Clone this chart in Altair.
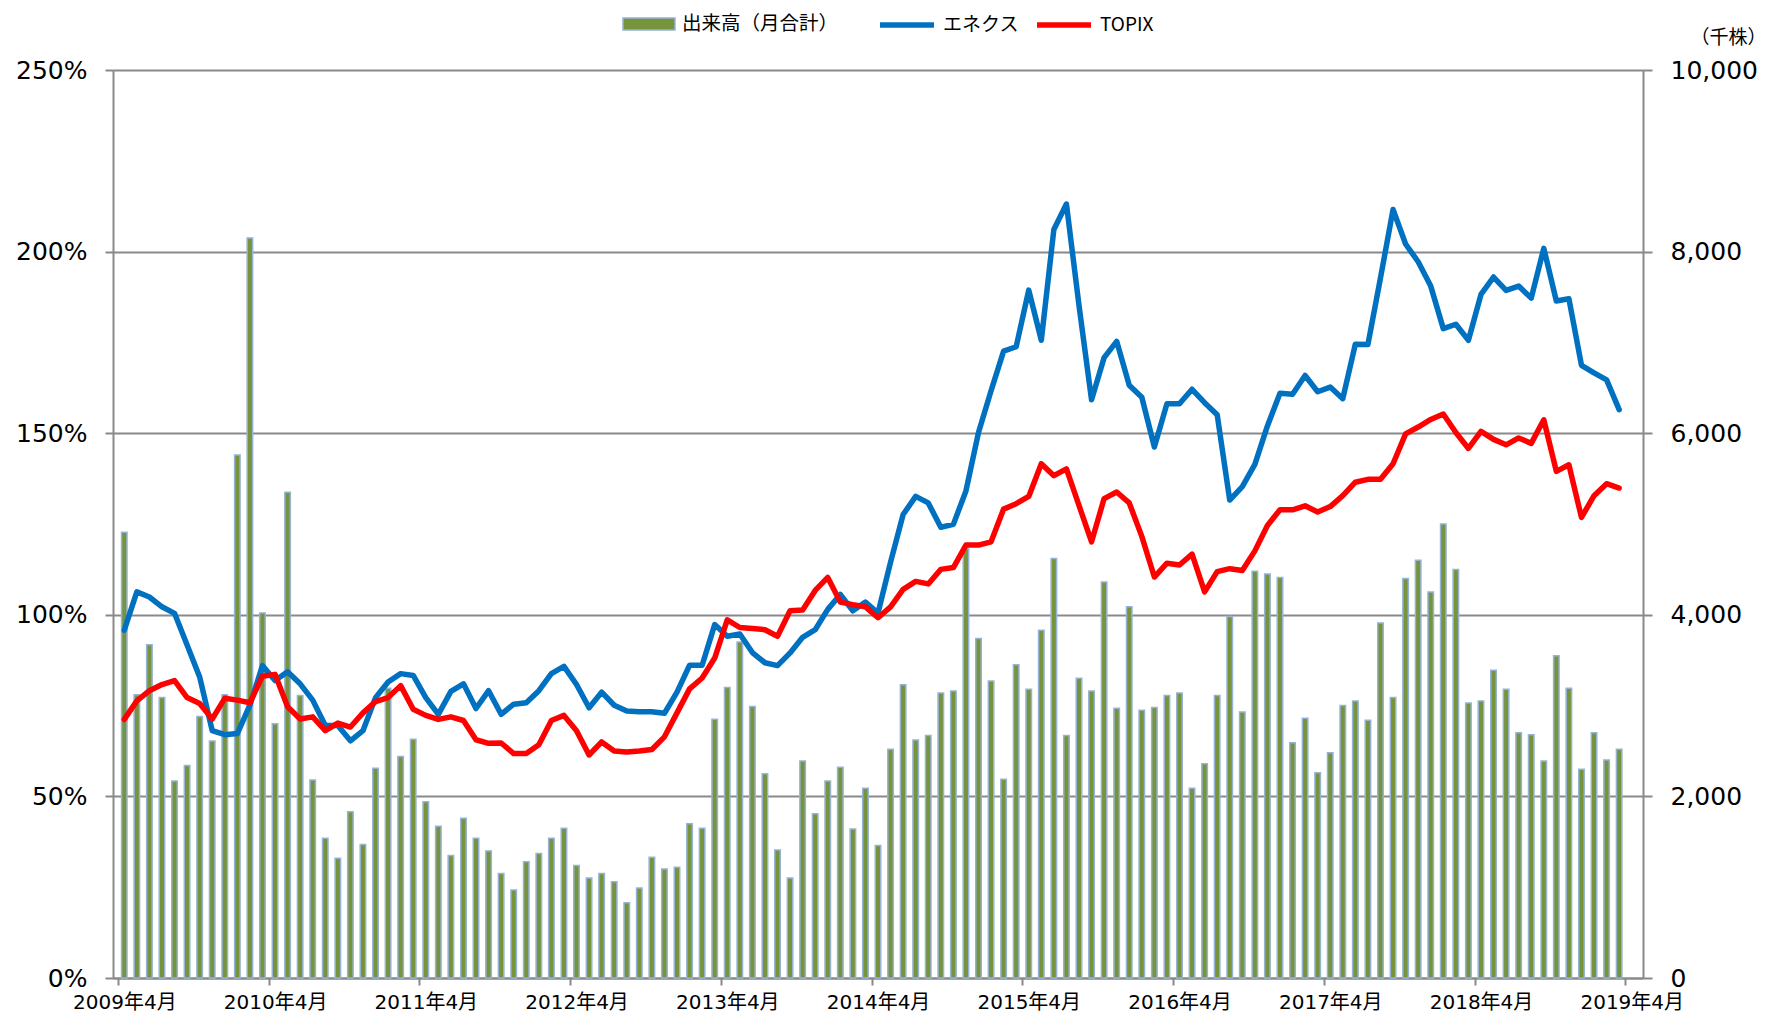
import json
import altair as alt
import pandas as pd

# ---- data ----
x_tick_labels = ["2009年4月", "2010年4月", "2011年4月", "2012年4月", "2013年4月", "2014年4月",
                 "2015年4月", "2016年4月", "2017年4月", "2018年4月", "2019年4月"]

# monthly volume, thousand shares (2009/4 .. 2019/3)
volume = [4910, 3120, 3670, 3090, 2170, 2340, 2880, 2610, 3120, 5760, 8150, 4020,
          2800, 5350, 3110, 2180, 1540, 1320, 1830, 1470, 2310, 3190, 2440, 2630,
          1940, 1670, 1350, 1760, 1540, 1400, 1150, 970, 1280, 1370, 1540, 1650,
          1240, 1100, 1150, 1060, 830, 990, 1330, 1200, 1220, 1700, 1650, 2850,
          3200, 3700, 2990, 2250, 1410, 1100, 2390, 1810, 2170, 2320, 1640, 2090,
          1460, 2520, 3230, 2620, 2670, 3140, 3160, 4730, 3740, 3270, 2190, 3450,
          3180, 3830, 4620, 2670, 3300, 3160, 4360, 2970, 4090, 2950, 2980, 3110,
          3140, 2090, 2360, 3110, 3980, 2930, 4480, 4450, 4410, 2590, 2860, 2260,
          2480, 3000, 3050, 2840, 3910, 3090, 4400, 4600, 4250, 5000, 4500, 3030,
          3050, 3390, 3180, 2700, 2680, 2390, 3550, 3190, 2300, 2700, 2400, 2520]

# relative price, %
enex = [95.8, 106.3, 104.9, 102.2, 100.4, 91.7, 82.9, 68.1, 67.0, 67.3, 75.1, 86.0,
        81.9, 84.3, 81.0, 76.5, 69.5, 69.5, 65.3, 68.1, 77.2, 81.5, 83.8, 83.3,
        77.2, 72.6, 78.9, 81.0, 74.2, 79.1, 72.6, 75.4, 75.8, 79.1, 83.8, 85.8,
        80.8, 74.4, 78.7, 75.1, 73.5, 73.3, 73.3, 72.9, 78.7, 86.1, 86.1, 97.3,
        94.1, 94.7, 89.6, 86.8, 86.0, 89.5, 93.8, 95.9, 101.5, 105.6, 101.1, 103.5,
        100.5, 114.5, 127.6, 132.6, 130.8, 124.1, 124.9, 134.1, 150.2, 161.7, 172.6, 173.8,
        189.4, 175.6, 206.1, 213.1, 185.2, 159.2, 170.8, 175.3, 163.2, 159.9, 146.2, 158.1,
        158.1, 162.1, 158.4, 155.1, 131.6, 135.3, 141.4, 152.0, 161.0, 160.7, 165.9, 161.4,
        162.7, 159.5, 174.5, 174.4, 192.7, 211.6, 202.1, 197.2, 190.5, 178.8, 180.0, 175.6,
        188.2, 193.0, 189.3, 190.5, 187.2, 200.9, 186.4, 187.0, 168.7, 166.6, 164.7, 156.5]

topix = [71.2, 76.3, 79.1, 80.8, 81.9, 77.2, 75.6, 71.3, 77.0, 76.5, 75.8, 83.1,
         83.6, 74.7, 71.3, 71.9, 68.1, 70.2, 69.1, 73.0, 76.1, 77.2, 80.5, 74.0,
         72.3, 71.2, 71.9, 70.9, 65.6, 64.6, 64.7, 61.8, 61.8, 64.2, 70.9, 72.3,
         68.1, 61.4, 65.0, 62.5, 62.2, 62.5, 62.9, 66.4, 73.0, 79.6, 82.6, 88.1,
         98.6, 96.5, 96.2, 95.9, 94.1, 101.1, 101.3, 106.7, 110.3, 103.5, 102.8, 102.2,
         99.2, 102.2, 107.0, 109.2, 108.5, 112.5, 113.0, 119.2, 119.2, 120.1, 129.1, 130.6,
         132.6, 141.6, 138.3, 140.2, 130.1, 120.1, 132.0, 133.8, 130.8, 121.6, 110.4, 114.2,
         113.7, 116.7, 106.3, 111.9, 112.7, 112.2, 117.6, 124.6, 128.9, 128.9, 130.0, 128.3,
         129.8, 132.8, 136.5, 137.3, 137.3, 141.6, 149.8, 151.7, 153.8, 155.3, 150.2, 145.8,
         150.5, 148.3, 146.8, 148.7, 147.2, 153.7, 139.5, 141.3, 126.8, 132.8, 136.1, 134.9]

BAR_NAME = "出来高（月合計）"
LINE_NAMES = ["エネクス", "TOPIX"]

df = pd.DataFrame({"idx": list(range(len(volume))), "vol": volume,
                   "エネクス": enex, "TOPIX": topix})

# ---- styling ----
W, H = 1530, 908
GRAY = "#898989"
NUM_FONT = "DejaVu Sans, Noto Sans CJK JP"
JP_FONT = "Noto Sans CJK JP"
n_bands = len(volume) + 1
band_px = W / n_bands

x_enc = alt.X(
    "pos:Q",
    scale=alt.Scale(domain=[0, n_bands], nice=False, zero=False),
    axis=alt.Axis(
        values=list(range(0, n_bands, 12)),
        labelExpr=json.dumps(x_tick_labels, ensure_ascii=False) + "[round(datum.value / 12)]",
        title=None, grid=False,
        domainColor=GRAY, domainWidth=2, tickColor=GRAY, tickWidth=2, tickSize=7,
        labelFont=NUM_FONT, labelFontSize=20, labelColor="#000000",
        labelPadding=7, labelOffset=band_px / 2, labelFlush=False, labelOverlap=False,
    ),
)

bars = alt.Chart(df).transform_calculate(
    pos="datum.idx + 0.5", series=f"'{BAR_NAME}'"
).mark_bar(size=5.5, stroke="#95B3D7", strokeWidth=1.5).encode(
    x=x_enc,
    y=alt.Y(
        "vol:Q",
        scale=alt.Scale(domain=[0, 10000], nice=False),
        axis=alt.Axis(
            orient="right", values=[0, 2000, 4000, 6000, 8000, 10000], format=",d",
            grid=False, domainColor=GRAY, domainWidth=2, tickColor=GRAY, tickWidth=2,
            tickSize=9, labelFont=NUM_FONT, labelFontSize=25, labelColor="#000000",
            labelPadding=18,
            title="（千株）", titleAngle=0, titleX=85, titleY=-33, titleAlign="center",
            titleBaseline="middle", titleFont=JP_FONT, titleFontSize=19,
            titleFontWeight="normal", titleColor="#000000",
        ),
    ),
    fill=alt.Fill(
        "series:N",
        scale=alt.Scale(domain=[BAR_NAME], range=["#77933C"]),
        legend=alt.Legend(
            title=None, orient="none", legendX=509, legendY=-73,
            symbolType="M-1,-0.23L1,-0.23L1,0.23L-1,0.23Z", symbolSize=2704,
            symbolStrokeColor="#95B3D7", symbolStrokeWidth=1.5,
            labelFont=JP_FONT, labelFontSize=19.5, labelColor="#000000", labelOffset=6,
            padding=0,
        ),
    ),
)

lines = alt.Chart(df).transform_calculate(
    pos="datum.idx + 0.5"
).transform_fold(LINE_NAMES, as_=["name", "pct"]).mark_line(
    strokeWidth=5.5, strokeJoin="round", strokeCap="round"
).encode(
    x=x_enc,
    y=alt.Y(
        "pct:Q",
        scale=alt.Scale(domain=[0, 250], nice=False),
        axis=alt.Axis(
            orient="left", values=[0, 50, 100, 150, 200, 250],
            labelExpr="datum.value + '%'", title=None,
            grid=True, gridColor=GRAY, gridWidth=2,
            domainColor=GRAY, domainWidth=2, tickColor=GRAY, tickWidth=2, tickSize=8,
            labelFont=NUM_FONT, labelFontSize=25, labelColor="#000000", labelPadding=18,
        ),
    ),
    stroke=alt.Stroke(
        "name:N",
        scale=alt.Scale(domain=LINE_NAMES, range=["#0070C0", "#FF0000"]),
        sort=LINE_NAMES,
        legend=alt.Legend(
            title=None, orient="none", legendX=764, legendY=-75, direction="horizontal",
            symbolType="stroke", symbolSize=2916, symbolStrokeWidth=5.5,
            labelFont=JP_FONT, labelFontSize=19, labelColor="#000000", labelOffset=6,
            columnPadding=6, padding=0,
        ),
    ),
    detail="name:N",
)

chart = alt.layer(bars, lines).resolve_scale(
    y="independent"
).properties(
    width=W, height=H,
    padding={"left": 105, "top": 62, "right": 124, "bottom": 36},
    autosize=alt.AutoSizeParams(type="none"),
).configure_view(strokeWidth=0).configure(background="#ffffff")

chart.save("out.html", embed_options={"renderer": "svg", "actions": False})
